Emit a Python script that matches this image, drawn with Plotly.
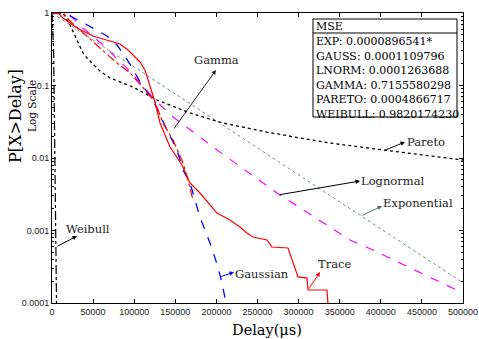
import plotly.graph_objects as go

# ---------------- data ----------------
trace_x = [0, 7300, 13400, 30400, 49900, 70600, 82700, 92500, 107000, 113100, 119200,
           125300, 131400, 143600, 158100, 167900, 180000, 200700, 216500, 228700,
           237200, 244500, 261500, 267600, 287100, 293200, 299300, 310200, 311400,
           334500, 335700]
trace_y = [1, 1, 0.853, 0.621, 0.482, 0.411, 0.373, 0.309, 0.211, 0.164, 0.0955,
           0.0592, 0.0304, 0.0142, 0.0080, 0.00452, 0.00329, 0.00174, 0.0014, 0.00112,
           0.000924, 0.000813, 0.00074, 0.000592, 0.000574, 0.000368, 0.000229, 0.000221,
           0.000151, 0.000151, 0.0001]

gamma_x = [0, 13400, 21900, 37700, 58400, 79100, 94900, 113100, 125300, 135000,
           147200, 159400, 165400, 171500]
gamma_y = [1, 1, 0.776, 0.530, 0.329, 0.204, 0.149, 0.0867, 0.0592, 0.0304,
           0.0177, 0.00853, 0.00498, 0.00264]

gauss_x = [0, 17000, 34100, 49900, 66900, 79100, 94900, 107100, 122900, 139900,
           152100, 159400, 167900, 180000, 192200, 201900, 206800, 211700]
gauss_y = [1, 0.97, 0.776, 0.621, 0.482, 0.362, 0.198, 0.112, 0.0631, 0.0243,
           0.0129, 0.00683, 0.00452, 0.00153, 0.000673, 0.000314, 0.000189, 0.0001]

lnorm_x = [0, 9700, 21900, 37700, 62000, 79100, 91200, 127700, 147200, 180000,
           200700, 273700, 338200, 362500, 390500, 500000]
lnorm_y = [1, 1, 0.938, 0.621, 0.362, 0.239, 0.174, 0.0592, 0.0368, 0.0195,
           0.0129, 0.00329, 0.00112, 0.00074, 0.000538, 0.000137]

exp_x = [0, 100000, 200000, 300000, 400000, 500000]
exp_y = [1, 0.18, 0.032, 0.0058, 0.00105, 0.00019]

pareto_x = [0, 13400, 21900, 30400, 37700, 42600, 58400, 70600, 98500, 127700,
            167900, 208000, 261500, 301700, 338200, 402700, 500000]
pareto_y = [1, 1, 0.683, 0.411, 0.281, 0.239, 0.158, 0.127, 0.0953, 0.0631,
            0.0418, 0.0304, 0.0228, 0.0189, 0.0161, 0.0129, 0.00938]

weibull_x = [0, 2000, 3500, 4500, 5500]
weibull_y = [1, 0.3, 0.01, 0.001, 0.0001]

x_ticks = [0, 50000, 100000, 150000, 200000, 250000, 300000, 350000, 400000, 450000, 500000]
x_ticklabels = [str(v) for v in x_ticks]
y_ticks = [1, 0.1, 0.01, 0.001, 0.0001]
y_ticklabels = ["1", "0.1", "0.01", "0.001", "0.0001"]

mse_title = "MSE"
mse_lines = ["EXP: 0.0000896541*", "GAUSS: 0.0001109796", "LNORM: 0.0001263688",
             "GAMMA: 0.7155580298", "PARETO: 0.0004866717", "WEIBULL: 0.9820174230"]

# ---------------- layout geometry ----------------
W, H = 479, 339
L, R, T, B = 52, 16, 13, 36
PW, PH = W - L - R, H - T - B

def xp(px):  # pixel -> paper x
    return (px - L) / PW

def yp(py):  # pixel -> paper y
    return (H - B - py) / PH

def dx(px):  # pixel -> data x
    return (px - L) / PW * 500000

def dly(py):  # pixel -> log10 data y
    return -4 * (py - T) / PH

fig = go.Figure()

def add(x, y, color, dash, width=1.2):
    fig.add_trace(go.Scatter(x=x, y=y, mode="lines",
                             line=dict(color=color, dash=dash, width=width),
                             showlegend=False, hoverinfo="skip"))

add(exp_x, exp_y, "#6f8f8f", "dot", 1.0)
add(pareto_x, pareto_y, "black", "dot", 1.3)
add(weibull_x, weibull_y, "black", "dashdot", 1.2)
add(lnorm_x, lnorm_y, "#ff00ff", "dash", 1.2)
add(gauss_x, gauss_y, "#0000ff", "dash", 1.3)
add(gamma_x, gamma_y, "#ff0000", "dashdot", 1.2)
add(trace_x, trace_y, "#ff0000", "solid", 1.2)

serif = "DejaVu Serif"
ann = []

# labels with arrows (arrow head at the label end, tail at the curve)
labels = [
    ("Gamma", 216, 60, 173, 130, 216, 70, "#222222"),
    ("Pareto", 426, 142, 383, 151, 405, 142, "black"),
    ("Lognormal", 393, 181, 278, 195, 360, 181, "black"),
    ("Exponential", 418, 203, 361, 216, 382, 206, "#4f6f6f"),
    ("Trace", 334, 264, 308, 290, 320, 272, "#ff0000"),
    ("Gaussian", 262, 274, 220, 277, 234, 272, "#0000ff"),
    ("Weibull", 88, 229, 56, 247, 77, 236, "black"),
]
for text, tx, ty, x0, y0, x1, y1, col in labels:
    ann.append(dict(text=text, x=xp(tx), y=yp(ty), xref="paper", yref="paper",
                    showarrow=False, font=dict(family=serif, size=11.5, color="#222222"),
                    xanchor="center", yanchor="middle"))
    ann.append(dict(text="", x=dx(x1), y=dly(y1), xref="x", yref="y",
                    ax=dx(x0), ay=dly(y0), axref="x", ayref="y",
                    showarrow=True, arrowhead=2, arrowsize=0.9, arrowwidth=1,
                    arrowcolor=col, standoff=0, startstandoff=0))

# MSE box
fig.add_shape(type="rect", xref="paper", yref="paper",
              x0=xp(313), x1=xp(457), y0=yp(117), y1=yp(19),
              line=dict(color="black", width=1), fillcolor="white", layer="above")
fig.add_shape(type="line", xref="paper", yref="paper",
              x0=xp(313), x1=xp(457), y0=yp(33), y1=yp(33),
              line=dict(color="black", width=1), layer="above")
ann.append(dict(text=mse_title, x=xp(314), y=yp(26.5), xref="paper", yref="paper",
                showarrow=False, xanchor="left", yanchor="middle",
                font=dict(family=serif, size=11, color="black")))
for i, s in enumerate(mse_lines):
    ann.append(dict(text=s, x=xp(314), y=yp(41.5 + i * 14.6), xref="paper", yref="paper",
                    showarrow=False, xanchor="left", yanchor="middle",
                    font=dict(family=serif, size=11, color="black")))

# axis titles
ann.append(dict(text="P[X&gt;Delay]", x=xp(15), y=yp(116), xref="paper", yref="paper",
                showarrow=False, textangle=-90, xanchor="center", yanchor="middle",
                font=dict(family=serif, size=16, color="black")))
ann.append(dict(text="Log Scale", x=xp(32), y=yp(106), xref="paper", yref="paper",
                showarrow=False, textangle=-90, xanchor="center", yanchor="middle",
                font=dict(family=serif, size=10.5, color="black")))
ann.append(dict(text="Delay(\u03bcs)", x=xp(267), y=yp(330), xref="paper", yref="paper",
                showarrow=False, xanchor="center", yanchor="middle",
                font=dict(family=serif, size=14.5, color="black")))

minor_vals = [m * 10 ** e for e in range(-4, 0) for m in range(2, 10)]

fig.update_layout(
    width=W, height=H, autosize=False,
    margin=dict(l=L, r=R, t=T, b=B, pad=0, autoexpand=False),
    paper_bgcolor="white", plot_bgcolor="white",
    annotations=ann,
    xaxis=dict(range=[0, 500000], tickvals=x_ticks, ticktext=x_ticklabels,
               ticks="inside", ticklen=4, tickcolor="black", showline=True,
               linecolor="black", linewidth=1, mirror="ticks", showgrid=False,
               zeroline=False, automargin=False,
               tickfont=dict(family="Liberation Sans", size=9, color="#222222")),
    yaxis=dict(type="log", range=[-4, 0], tickvals=y_ticks, ticktext=y_ticklabels,
               ticks="inside", ticklen=4, tickcolor="black", showline=True,
               linecolor="black", linewidth=1, mirror="ticks", showgrid=False,
               zeroline=False, automargin=False,
               tickfont=dict(family="Liberation Sans", size=9, color="#222222"),
               minor=dict(tickvals=minor_vals, ticks="inside", ticklen=2,
                          tickcolor="black", showgrid=False)),
)

fig.write_html("out.html",
               config=dict(displayModeBar=False, responsive=False),
               post_script="document.body.style.margin='0';document.body.style.overflow='hidden';")
